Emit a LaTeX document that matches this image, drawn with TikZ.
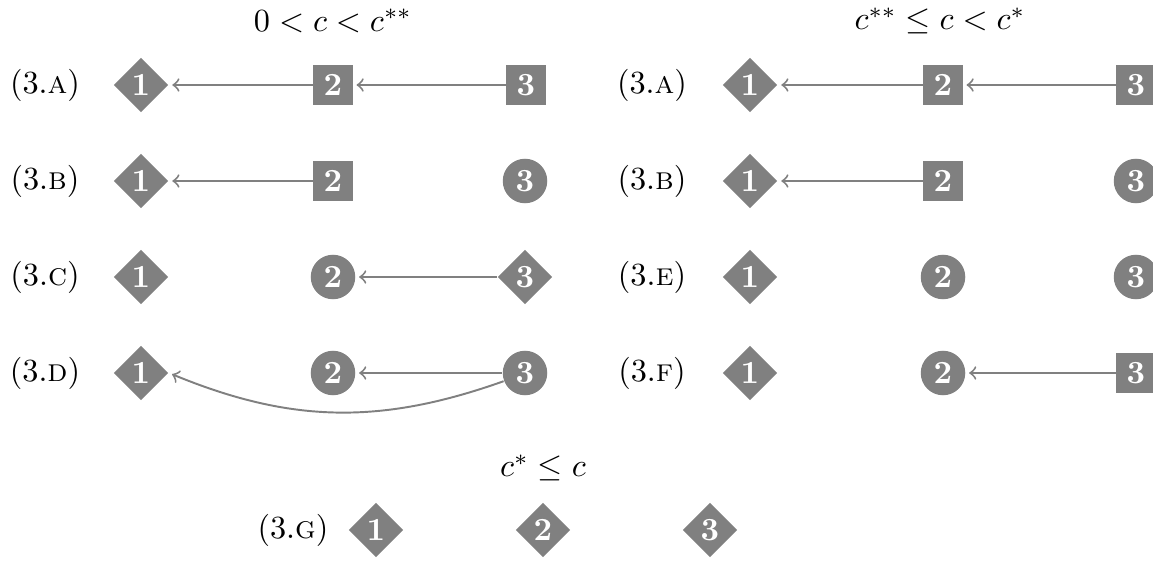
\documentclass[tikz,border=0pt]{standalone}
\usepackage{amsmath, amssymb}
\usetikzlibrary{shapes.geometric}

\begin{document}
\begin{tikzpicture}[x=0.31pt,y=0.31pt,yscale=-1,xscale=1,
        pl/.style={fill=gray, text=white, inner sep=0pt, font=\bfseries},
        dmd/.style={pl, diamond, aspect=1, minimum size=17pt},
        sqr/.style={pl, rectangle, minimum size=12.2pt},
        crc/.style={pl, circle, minimum size=13.8pt},
        arr/.style={->, draw=gray, line width=0.6pt, shorten >=1pt}]
        \useasboundingbox (0,0) rectangle (1153,567);

        % Text Node
        \node (hA) at (333,21) {$0<c<c^{**}$};
        % Text Node
        \node (hB) at (940,21) {$c^{**}\le c<c^{*}$};
        % Text Node
        \node (hC) at (543,468) {$c^{*}\le c$};

        %Row (3.a) left
        \node (la) at (45,85) {(3.\textsc{a})};
        \node [dmd] (a1) at (141,85) {1};
        \node [sqr] (a2) at (333,85) {2};
        \node [sqr] (a3) at (526,85) {3};
        \draw [arr] (a2) -- (a1);
        \draw [arr] (a3) -- (a2);

        %Row (3.b) left
        \node (lb) at (45,181) {(3.\textsc{b})};
        \node [dmd] (b1) at (141,181) {1};
        \node [sqr] (b2) at (333,181) {2};
        \node [crc] (b3) at (525,181) {3};
        \draw [arr] (b2) -- (b1);

        %Row (3.c) left
        \node (lc) at (45,277) {(3.\textsc{c})};
        \node [dmd] (c1) at (141,277) {1};
        \node [crc] (c2) at (333,277) {2};
        \node [dmd] (c3) at (525,277) {3};
        \draw [arr] (c3) -- (c2);

        %Row (3.d) left
        \node (ld) at (45,373) {(3.\textsc{d})};
        \node [dmd] (d1) at (141,373) {1};
        \node [crc] (d2) at (333,373) {2};
        \node [crc] (d3) at (525,373) {3};
        \draw [arr] (d3) -- (d2);
        \draw [arr] (d3) to [bend right=21] (d1.east);

        %Row (3.a) right
        \node (ra) at (652,85) {(3.\textsc{a})};
        \node [dmd] (ra1) at (750,85) {1};
        \node [sqr] (ra2) at (943,85) {2};
        \node [sqr] (ra3) at (1136,85) {3};
        \draw [arr] (ra2) -- (ra1);
        \draw [arr] (ra3) -- (ra2);

        %Row (3.b) right
        \node (rb) at (652,181) {(3.\textsc{b})};
        \node [dmd] (rb1) at (750,181) {1};
        \node [sqr] (rb2) at (943,181) {2};
        \node [crc] (rb3) at (1136,181) {3};
        \draw [arr] (rb2) -- (rb1);

        %Row (3.e) right
        \node (re) at (652,277) {(3.\textsc{e})};
        \node [dmd] (re1) at (750,277) {1};
        \node [crc] (re2) at (943,277) {2};
        \node [crc] (re3) at (1136,277) {3};

        %Row (3.f) right
        \node (rf) at (652,373) {(3.\textsc{f})};
        \node [dmd] (rf1) at (750,373) {1};
        \node [crc] (rf2) at (943,373) {2};
        \node [sqr] (rf3) at (1136,373) {3};
        \draw [arr] (rf3) -- (rf2);

        %Row (3.g)
        \node (lg) at (293,530) {(3.\textsc{g})};
        \node [dmd] (g1) at (376,530) {1};
        \node [dmd] (g2) at (543,530) {2};
        \node [dmd] (g3) at (710,530) {3};

\end{tikzpicture}
\end{document}
